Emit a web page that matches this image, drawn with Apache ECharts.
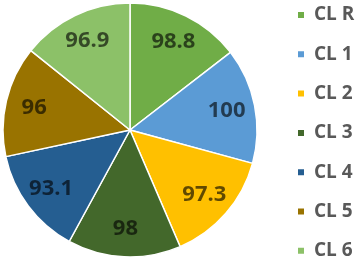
<!DOCTYPE html>
<html>
<head>
<meta charset="utf-8">
<script src="https://cdn.jsdelivr.net/npm/echarts@6/dist/echarts.min.js"></script>
<style>
  html, body { margin: 0; padding: 0; background: #fff; }
  #chart { width: 361px; height: 261px; }
</style>
</head>
<body>
<div id="chart"></div>
<script>
// 各类别及数值
var categories = ["CL R", "CL 1", "CL 2", "CL 3", "CL 4", "CL 5", "CL 6"];
var values = [98.8, 100, 97.3, 98, 93.1, 96, 96.9];
var colors = ["#70AD47", "#5B9BD5", "#FFC000", "#43682B", "#255E91", "#997300", "#8CC168"];

var pieData = categories.map(function (name, i) {
  return { name: name, value: values[i] };
});

var myChart = echarts.init(document.getElementById("chart"));
var option = {
  color: colors,
  animation: false,
  legend: {
    orient: "vertical",
    left: 296,
    top: 5,
    padding: 0,
    itemWidth: 8,
    itemHeight: 8,
    itemGap: 19.3,
    icon: "rect",
    data: categories,
    textStyle: {
      fontFamily: "Open Sans",
      fontSize: 19,
      fontWeight: "bold",
      color: "#595959",
      lineHeight: 20,
      padding: [0, 0, 0, 4],
    },
  },
  series: [
    {
      type: "pie",
      center: [130, 130],
      radius: 127,
      startAngle: 90,
      clockwise: true,
      silent: true,
      label: { show: false },
      labelLine: { show: false },
      itemStyle: { borderColor: "#fff", borderWidth: 1.5 },
      data: pieData,
    },
    {
      // 透明的一层，只用来把标签放到外侧
      type: "pie",
      center: [130, 130],
      radius: [64, 127],
      startAngle: 90,
      clockwise: true,
      silent: true,
      itemStyle: { color: "rgba(0,0,0,0)" },
      labelLine: { show: false },
      label: {
        show: true,
        position: "inside",
        formatter: "{c}",
        fontFamily: "Open Sans",
        fontSize: 22,
        fontWeight: "bold",
        color: "rgba(0,0,0,0.62)",
      },
      data: pieData,
    },
  ],
};
myChart.setOption(option);
</script>
</body>
</html>
